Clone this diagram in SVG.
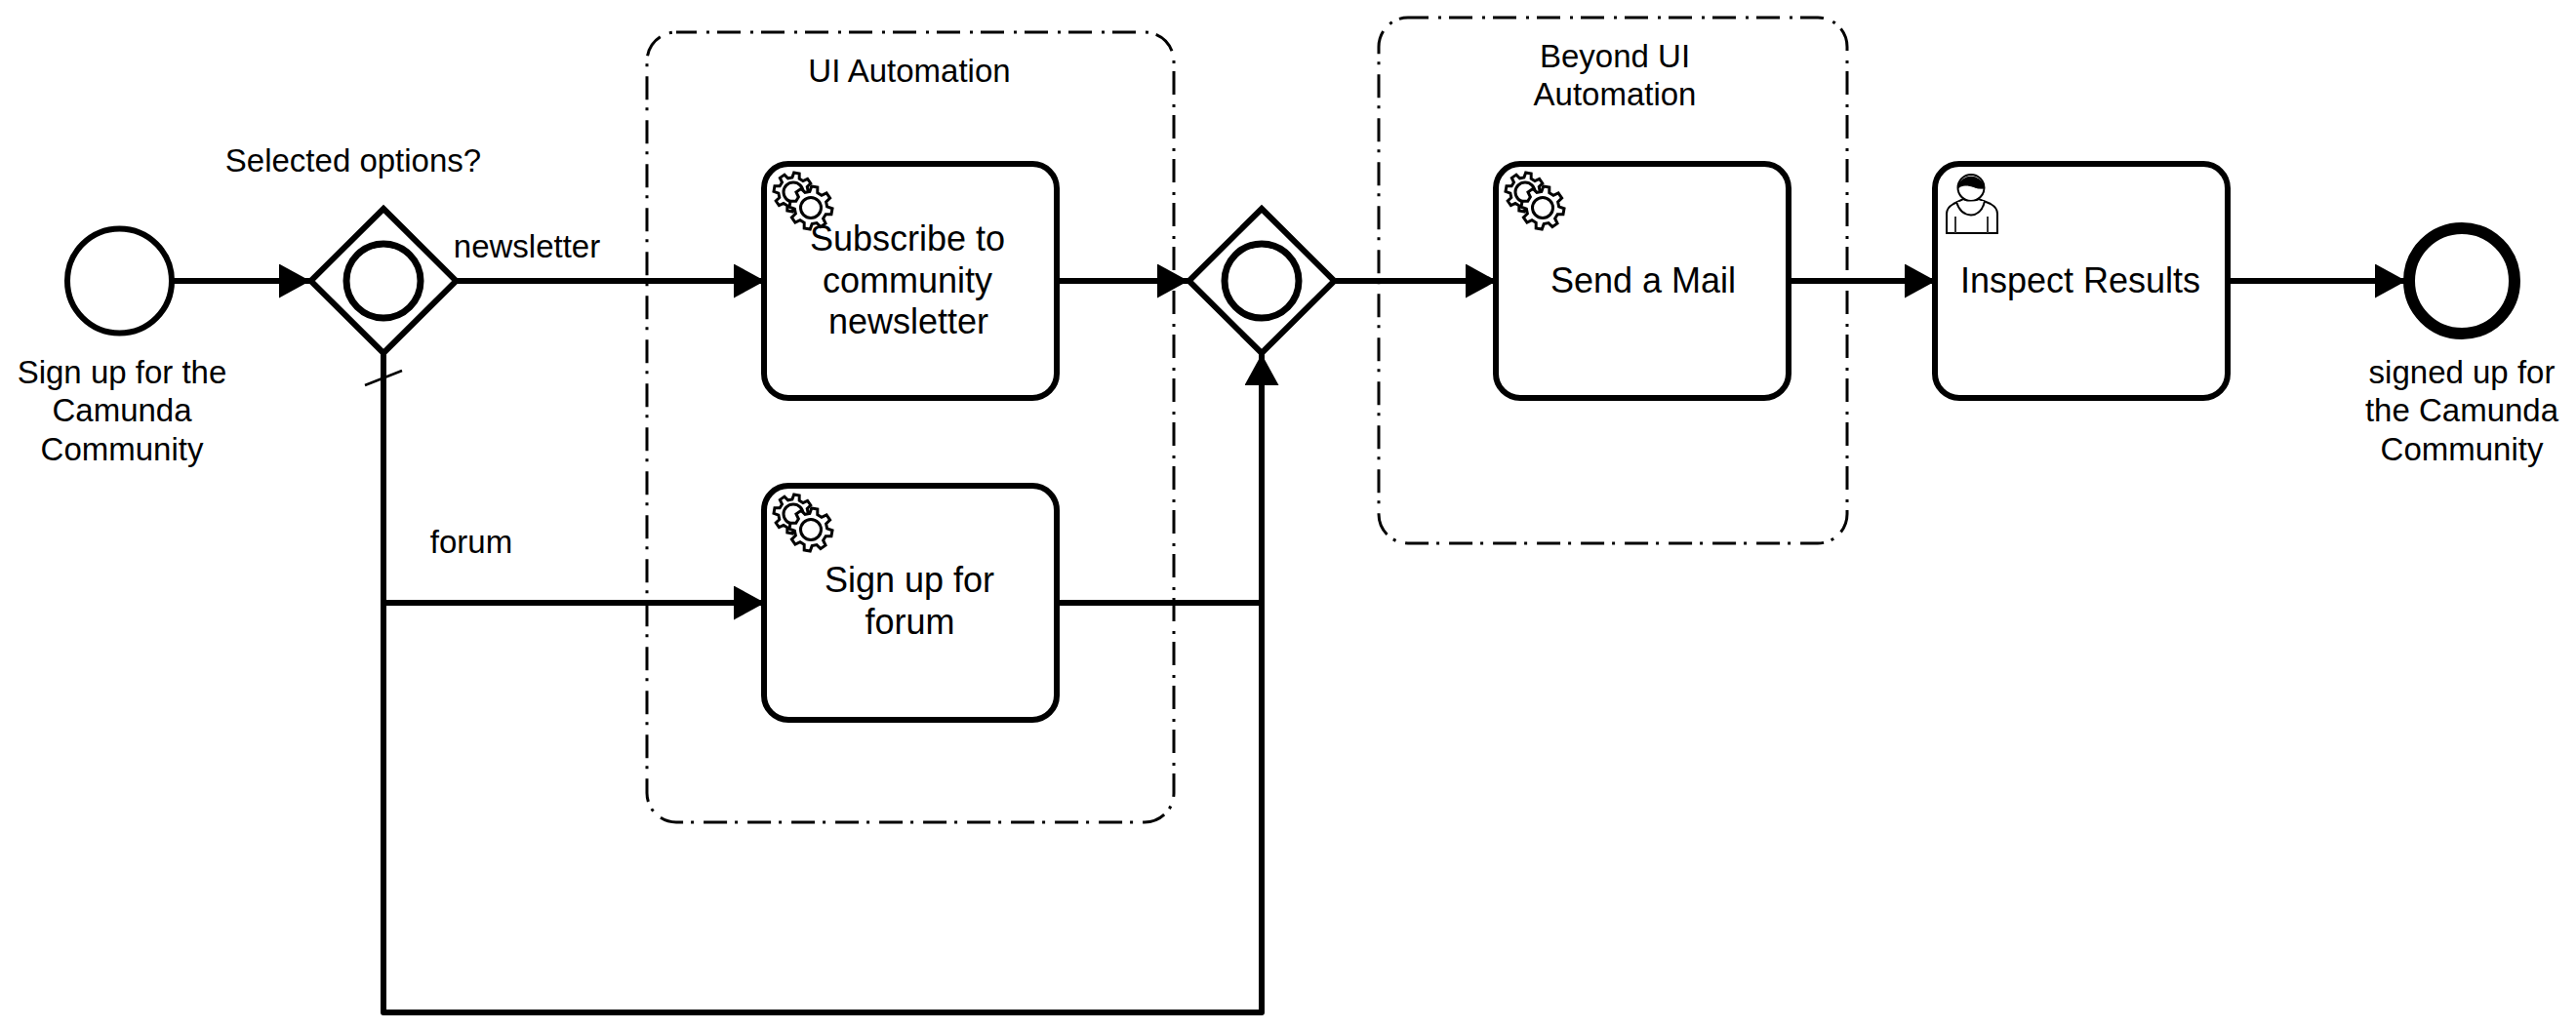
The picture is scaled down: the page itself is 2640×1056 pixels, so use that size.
<svg xmlns="http://www.w3.org/2000/svg" xmlns:xlink="http://www.w3.org/1999/xlink" width="2640" height="1056" viewBox="0 0 2640 1056">
<style>
text{font-family:"Liberation Sans",Arial,sans-serif;fill:#000;text-anchor:middle}
.s{font-size:33px}
.t{font-size:36px}
.box{fill:#fff;stroke:#000;stroke-width:6}
.grp{fill:none;stroke:#000;stroke-width:3;stroke-dasharray:24 10 3 8;stroke-dashoffset:3}
.flow{fill:none;stroke:#000;stroke-width:6;stroke-linejoin:round}
.gear{fill:#fff;stroke:#000;stroke-width:3;stroke-linejoin:miter}
.user{fill:#fff;stroke:#000;stroke-width:2}
</style>
<defs>
<marker id="arrow" markerUnits="userSpaceOnUse" markerWidth="33" markerHeight="36" refX="32" refY="17.500" orient="auto">
<path d="M0,0 L32,17.500 L0,35 Z" fill="#000"/>
</marker>
<polygon id="gearShape" points="-3.5,-24.8 3.5,-24.8 4.6,-18.4 9.8,-16.3 15,-20 20,-15 16.3,-9.8 18.4,-4.6 24.8,-3.5 24.8,3.5 18.4,4.6 16.3,9.8 20,15 15,20 9.8,16.3 4.6,18.4 3.5,24.8 -3.5,24.8 -4.6,18.4 -9.8,16.3 -15,20 -20,15 -16.3,9.8 -18.4,4.6 -24.8,3.5 -24.8,-3.5 -18.4,-4.6 -16.3,-9.8 -20,-15 -15,-20 -9.8,-16.3 -4.6,-18.4"/>
<g id="gears">
<use xlink:href="#gearShape" href="#gearShape" class="gear" transform="translate(29,29) rotate(10) scale(.8)" style="stroke-width:3.7"/>
<circle cx="29" cy="29" r="10" class="gear"/>
<use xlink:href="#gearShape" href="#gearShape" class="gear" transform="translate(47,45) rotate(10) scale(.88)" style="stroke-width:3.4"/>
<circle cx="47" cy="45" r="10.5" class="gear"/>
</g>
</defs>
<rect width="2640" height="1056" fill="#fff"/>

<g id="group-ui-automation">
<rect class="grp" x="663" y="33" width="540" height="810" rx="30"/>
<text class="s" x="932" y="84">UI Automation</text>
</g>
<g id="group-beyond-ui">
<rect class="grp" x="1413" y="18" width="480" height="539" rx="30"/>
<text class="s" x="1655" y="68.500">Beyond UI</text>
<text class="s" x="1655" y="107.500">Automation</text>
</g>

<g id="start-event">
<circle class="box" cx="122.500" cy="288" r="53.500"/>
<text class="s" x="125" y="393">Sign up for the</text>
<text class="s" x="125" y="432">Camunda</text>
<text class="s" x="125" y="472">Community</text>
</g>
<g id="gateway-split">
<polygon class="box" points="393,214 467.500,288 393,362 318.500,288"/>
<circle class="box" cx="393" cy="288" r="38" style="stroke-width:7"/>
<text class="s" x="362" y="176">Selected options?</text>
</g>
<g id="task-subscribe">
<rect class="box" x="783" y="168" width="300" height="240" rx="25"/>
<use xlink:href="#gears" href="#gears" transform="translate(784,168)"/>
<text class="t" x="930" y="257">Subscribe to</text>
<text class="t" x="930" y="300">community</text>
<text class="t" x="931" y="342">newsletter</text>
</g>
<g id="task-forum">
<rect class="box" x="783" y="498" width="300" height="240" rx="25"/>
<use xlink:href="#gears" href="#gears" transform="translate(784,498)"/>
<text class="t" x="932" y="607">Sign up for</text>
<text class="t" x="932.500" y="650">forum</text>
</g>
<g id="gateway-join">
<polygon class="box" points="1293,214 1367.500,288 1293,362 1218.500,288"/>
<circle class="box" cx="1293" cy="288" r="38" style="stroke-width:7"/>
</g>
<g id="task-mail">
<rect class="box" x="1533" y="168" width="300" height="240" rx="25"/>
<use xlink:href="#gears" href="#gears" transform="translate(1534,168)"/>
<text class="t" x="1684" y="300">Send a Mail</text>
</g>
<g id="task-inspect">
<rect class="box" x="1983" y="168" width="300" height="240" rx="25"/>
<path class="user" d="M1995,239 V219 Q1995,213 2002,209 L2012,204 Q2020,208 2028,204 L2040,209 Q2047,213 2047,219 V239 Z"/>
<circle class="user" cx="2020" cy="192.500" r="13.500"/>
<path d="M2006.600,193 A13.500,13.500 0 0 1 2033.400,193 Q2027,194 2021,191 Q2012,188 2006.600,193 Z" fill="#000" stroke="#000"/>
<path class="user" d="M2005,207 Q2009,220 2020,220.500 Q2031,220 2034,206" fill="none"/>
<path d="M2004,222 V239 M2037,222 V239" fill="none" stroke="#333" stroke-width="2"/>
<text class="t" x="2132" y="300">Inspect Results</text>
</g>
<g id="end-event">
<circle cx="2523" cy="288" r="54" fill="#fff" stroke="#000" stroke-width="12"/>
<text class="s" x="2523" y="393">signed up for</text>
<text class="s" x="2523" y="432">the Camunda</text>
<text class="s" x="2523" y="471.500">Community</text>
</g>

<g id="connectors">
<path class="flow" marker-end="url(#arrow)" d="M178,288 H318"/>
<path class="flow" marker-end="url(#arrow)" d="M468,288 H784"/>
<path class="flow" marker-end="url(#arrow)" d="M393,363 V618 H784"/>
<path class="flow" marker-end="url(#arrow)" d="M393,618 V1038 H1293 V363"/>
<path class="flow" marker-end="url(#arrow)" d="M1083,288 H1218"/>
<path class="flow" d="M1083,618 H1293"/>
<path class="flow" marker-end="url(#arrow)" d="M1369,288 H1534"/>
<path class="flow" marker-end="url(#arrow)" d="M1833,288 H1984"/>
<path class="flow" marker-end="url(#arrow)" d="M2283,288 H2466"/>
<path d="M374,395 L412,380" fill="none" stroke="#000" stroke-width="2.500"/>
<text class="s" x="540" y="264">newsletter</text>
<text class="s" x="483" y="567">forum</text>
</g>
</svg>
